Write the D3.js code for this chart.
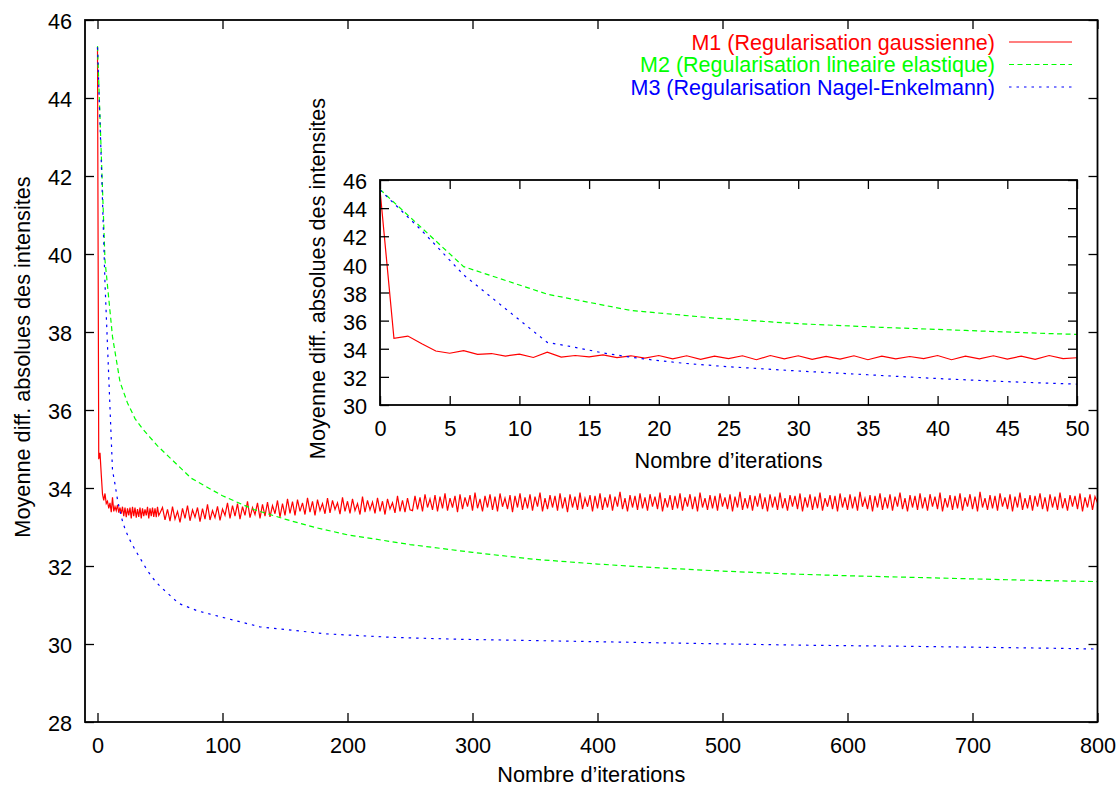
<!DOCTYPE html>
<html><head><meta charset="utf-8">
<script src="https://cdn.jsdelivr.net/npm/d3@7"></script>
<style>
body{margin:0;background:#fff}
text{font-family:"Liberation Sans",Arial,Helvetica,sans-serif;}
</style>
</head><body>
<svg id="c" width="1116" height="786"></svg>
<script>
// ---------- data ----------
const xTicksMain = [0,100,200,300,400,500,600,700,800];
const yTicksMain = [28,30,32,34,36,38,40,42,44,46];
const xTicksInset = [0,5,10,15,20,25,30,35,40,45,50];
const yTicksInset = [30,32,34,36,38,40,42,44,46];
const seriesNames = ["M1 (Regularisation gaussienne)","M2 (Regularisation lineaire elastique)","M3 (Regularisation Nagel-Enkelmann)"];
const seriesColors = ["#ff0000","#00ff00","#0000ff"];
const xLabel = "Nombre d\u2019iterations";
const yLabel = "Moyenne diff. absolues des intensites";

// M1: iterations 0..50 (every iteration)
const redHead = [45.3,34.74,34.9,34.35,33.84,33.68,33.86,33.6,33.66,33.48,
 33.62,33.38,33.76,33.4,33.52,33.42,33.57,33.37,33.5,33.34,
 33.52,33.28,33.5,33.25,33.48,33.3,33.5,33.22,33.52,33.28,
 33.5,33.24,33.46,33.26,33.5,33.22,33.48,33.28,33.45,33.3,
 33.52,33.22,33.48,33.28,33.5,33.26,33.48,33.25,33.52,33.3,33.36];
// M1: iterations 52..800 (every 2 iterations)
const redTail = [
 33.5,33.18,33.45,33.15,33.52,33.2,33.4,33.12,33.48,33.22,33.55,33.16,33.44,33.25,33.5,33.14,33.47,33.2,33.58,33.18,33.42,33.24,33.53,33.17,33.46,
 33.3,33.62,33.22,33.55,33.28,33.6,33.2,33.52,33.3,33.66,33.24,33.5,33.32,33.62,33.22,33.58,33.28,33.64,33.26,33.55,33.34,33.68,33.25,33.6,33.3,
 33.72,33.35,33.65,33.3,33.7,33.4,33.62,33.32,33.75,33.38,33.66,33.3,33.7,33.42,33.6,33.34,33.74,33.36,33.68,33.45,33.62,33.33,33.76,33.4,33.66,
 33.35,33.72,33.42,33.6,33.32,33.78,33.38,33.68,33.44,33.64,33.35,33.75,33.4,33.66,33.32,33.72,33.46,33.62,33.36,33.8,33.4,33.68,33.38,33.74,33.44,
 33.42,33.8,33.45,33.76,33.4,33.84,33.5,33.72,33.44,33.82,33.4,33.78,33.48,33.86,33.42,33.74,33.5,33.8,33.38,33.84,33.46,33.76,33.52,33.82,33.42,
 33.88,33.48,33.72,33.4,33.8,33.5,33.84,33.44,33.78,33.4,33.86,33.52,33.74,33.46,33.82,33.38,33.8,33.5,33.86,33.44,33.76,33.48,33.84,33.42,33.78,
 33.52,33.88,33.4,33.74,33.46,33.82,33.5,33.8,33.42,33.86,33.48,33.76,33.38,33.84,33.5,33.78,33.44,33.88,33.46,33.74,33.52,33.82,33.4,33.8,33.48,
 33.86,33.44,33.76,33.5,33.84,33.42,33.78,33.52,33.9,33.46,33.74,33.4,33.82,33.5,33.8,33.44,33.86,33.48,33.76,33.42,33.84,33.52,33.78,33.46,33.88,
 33.4,33.74,33.5,33.82,33.44,33.8,33.48,33.86,33.42,33.76,33.52,33.84,33.46,33.78,33.4,33.88,33.5,33.74,33.44,33.82,33.48,33.8,33.42,33.86,33.52,
 33.76,33.46,33.84,33.4,33.78,33.5,33.9,33.44,33.74,33.48,33.82,33.42,33.8,33.52,33.86,33.46,33.76,33.4,33.84,33.5,33.78,33.44,33.88,33.48,33.74,
 33.42,33.82,33.52,33.8,33.46,33.86,33.4,33.76,33.5,33.84,33.44,33.78,33.48,33.88,33.42,33.74,33.52,33.82,33.46,33.8,33.4,33.86,33.5,33.76,33.44,
 33.84,33.48,33.78,33.42,33.9,33.52,33.74,33.46,33.82,33.4,33.8,33.5,33.86,33.44,33.76,33.48,33.84,33.42,33.78,33.52,33.88,33.46,33.74,33.4,33.82,
 33.5,33.8,33.44,33.86,33.48,33.76,33.42,33.84,33.52,33.78,33.46,33.88,33.4,33.74,33.5,33.82,33.44,33.8,33.48,33.86,33.42,33.76,33.52,33.84,33.46,
 33.78,33.4,33.9,33.5,33.74,33.44,33.82,33.48,33.8,33.42,33.86,33.52,33.76,33.46,33.84,33.4,33.78,33.5,33.88,33.44,33.74,33.48,33.82,33.42,33.8,
 33.52,33.86,33.46,33.76,33.4,33.84,33.5,33.78,33.44,33.88,33.48,33.74,33.42,33.82,33.52,33.8,33.46,33.86,33.4,33.76,33.5,33.84,33.44,33.78,33.62];

const greenIter = [0,6,12,18,24,30,36,42,48,50,75,100,125,150,175,200,250,300,350,400,450,500,550,600,650,700,750,800];
const greenVal  = [45.33,39.84,37.88,36.72,36.18,35.78,35.52,35.3,35.08,35.02,34.25,33.8,33.45,33.2,32.98,32.8,32.55,32.35,32.17,32.05,31.95,31.87,31.8,31.75,31.71,31.67,31.63,31.6];

const blueIter = [0,3,6,9,12,14,16,18,20,22,25,30,35,40,45,50,65,80,98,130,183,236,290,364,450,564,650,767,800];
const blueVal  = [45.3,42.4,39.25,36.85,34.45,34.1,33.7,33.4,33.15,32.95,32.72,32.42,32.15,31.88,31.66,31.48,31.04,30.85,30.7,30.44,30.26,30.17,30.12,30.08,30.03,29.97,29.94,29.89,29.87];

// ---------- build series ----------
const redPts = redHead.map((v,i)=>[i,v]).concat(redTail.map((v,i)=>[52+2*i,v]));
const greenPts = greenIter.map((x,i)=>[x,greenVal[i]]);
const bluePts = blueIter.map((x,i)=>[x,blueVal[i]]);
const series = [redPts, greenPts, bluePts];
const dashes = [null, "5,3.5", "2.5,5"];

const FS = "21.7px";
const svg = d3.select("#c");

function panel(g, x, y, xt, yt, pts, clipId, xLab, yLab, opt){
  const [x0,x1] = x.range(), [y0,y1] = y.range(); // y0 bottom, y1 top
  g.append("rect").attr("x",x0).attr("y",y1).attr("width",x1-x0).attr("height",y0-y1).attr("fill","#fff");
  g.append("clipPath").attr("id",clipId).append("rect")
    .attr("x",x0).attr("y",y1).attr("width",x1-x0).attr("height",y0-y1);
  const line = d3.line().x(d=>x(d[0])).y(d=>y(d[1]));
  const lg = g.append("g").attr("clip-path",`url(#${clipId})`);
  pts.forEach((p,i)=>{
    lg.append("path").attr("d",line(p)).attr("fill","none")
      .attr("stroke",seriesColors[i]).attr("stroke-width",1.2)
      .attr("stroke-dasharray",dashes[i]);
  });
  const T = 9;
  const ax = [
    g.append("g").attr("transform",`translate(0,${y0})`).call(d3.axisBottom(x).tickValues(xt).tickSize(-T).tickSizeOuter(0).tickPadding(15.5).tickFormat(d3.format("d"))),
    g.append("g").attr("transform",`translate(${x0},0)`).call(d3.axisLeft(y).tickValues(yt).tickSize(-T).tickSizeOuter(0).tickPadding(13).tickFormat(d3.format("d"))),
    g.append("g").attr("transform",`translate(0,${y1})`).call(d3.axisTop(x).tickValues(xt).tickSize(-T).tickSizeOuter(0).tickFormat("")),
    g.append("g").attr("transform",`translate(${x1},0)`).call(d3.axisRight(y).tickValues(yt).tickSize(-T).tickSizeOuter(0).tickFormat(""))
  ];
  ax.forEach(a=>{
    a.select(".domain").remove();
    a.selectAll("line").attr("stroke","#000").attr("stroke-width",1.3);
    a.selectAll("text").attr("font-size",FS).attr("fill","#000").style("font-family","'Liberation Sans',Arial,sans-serif");
  });
  ax[1].selectAll("text").attr("dy","0.4em");
  g.append("rect").attr("x",x0).attr("y",y1).attr("width",x1-x0).attr("height",y0-y1)
    .attr("fill","none").attr("stroke","#000").attr("stroke-width",1.8);
  g.append("text").attr("x",(x0+x1)/2).attr("y",y0+opt.xlabOff).attr("text-anchor","middle")
    .attr("font-size",FS).text(xLab);
  g.append("text").attr("transform",`translate(${x0-opt.ylabOff},${(y0+y1)/2-14}) rotate(-90)`)
    .attr("text-anchor","middle").attr("font-size",FS).text(yLab);
}

// main
const xM = d3.scaleLinear().domain([-10,800]).range([85,1097.5]);
const yM = d3.scaleLinear().domain([28,46]).range([722,20]);
const gMain = svg.append("g");
panel(gMain, xM, yM, xTicksMain, yTicksMain, series, "clipMain", xLabel, yLabel, {xlabOff:60, ylabOff:55});

// legend
const leg = gMain.append("g");
seriesNames.forEach((n,i)=>{
  const yy = 42 + i*22.5;
  leg.append("text").attr("x",995).attr("y",yy).attr("dy","0.35em").attr("text-anchor","end")
    .attr("font-size","21.5px").attr("fill",seriesColors[i]).text(n);
  leg.append("line").attr("x1",1009).attr("x2",1072).attr("y1",yy).attr("y2",yy)
    .attr("stroke",seriesColors[i]).attr("stroke-width",1.2).attr("stroke-dasharray",dashes[i]);
});

// inset
const xI = d3.scaleLinear().domain([0,50]).range([380,1077]);
const yI = d3.scaleLinear().domain([30,46]).range([405,180]);
const insetSeries = series.map(p=>p.filter(d=>d[0]<=52));
panel(svg.append("g"), xI, yI, xTicksInset, yTicksInset, insetSeries, "clipInset", xLabel, yLabel, {xlabOff:63, ylabOff:55});
</script>
</body></html>
